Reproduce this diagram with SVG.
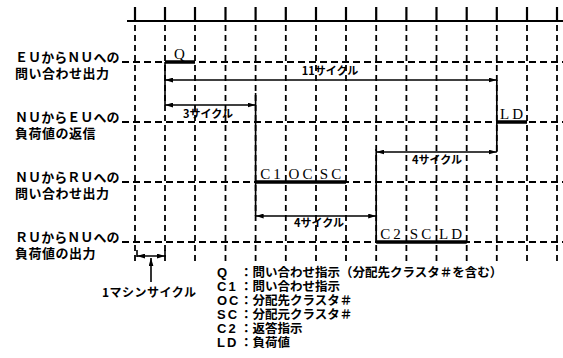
<svg xmlns="http://www.w3.org/2000/svg" width="563" height="358" viewBox="0 0 563 358">
<style>
.bg{fill:#fff}
.axis{stroke:#000;stroke-width:2;fill:none}
.tick{stroke:#000;stroke-width:2.2}
.vd{stroke:#000;stroke-width:1.8;stroke-dasharray:6 4;fill:none}
.hd{stroke:#000;stroke-width:1.8;stroke-dasharray:7 4;fill:none}
.bar{stroke:#000;stroke-width:3.5;fill:none}
.ln{stroke:#000;stroke-width:1.6;fill:none}
.arr{stroke:#000;stroke-width:1.5;fill:none;marker-start:url(#ah);marker-end:url(#ah)}
.lab{font-family:"Noto Sans CJK JP","Noto Sans",sans-serif;font-weight:bold;font-size:13px;letter-spacing:0.5px;fill:#000}
.sig{font-family:"Liberation Serif",serif;font-size:15px;letter-spacing:3px;fill:#000;text-anchor:middle}
.cyc{font-family:"Noto Sans CJK JP",sans-serif;font-weight:bold;font-size:11px;fill:#000;text-anchor:middle}
.key{font-family:"Liberation Sans",sans-serif;font-weight:bold;font-size:13px;letter-spacing:2px;fill:#000}
.desc{font-family:"Noto Sans CJK JP",sans-serif;font-weight:bold;font-size:12.5px;fill:#000}
</style>
<defs>
<marker id="ah" viewBox="0 0 10 6" refX="10" refY="3" markerWidth="8" markerHeight="5" markerUnits="userSpaceOnUse" orient="auto-start-reverse">
<path d="M0,0 L10,3 L0,6 z" fill="#000"/>
</marker>
</defs>
<rect class="bg" x="0" y="0" width="563" height="358"/>
<g id="grid">
<line class="axis" x1="127" y1="21" x2="563" y2="21"/>
<g class="tick">
<line x1="135" y1="7" x2="135" y2="22"/><line x1="165" y1="7" x2="165" y2="22"/><line x1="195" y1="7" x2="195" y2="22"/><line x1="225.5" y1="7" x2="225.5" y2="22"/><line x1="255.6" y1="7" x2="255.6" y2="22"/><line x1="285.8" y1="7" x2="285.8" y2="22"/><line x1="316" y1="7" x2="316" y2="22"/><line x1="346" y1="7" x2="346" y2="22"/><line x1="376.2" y1="7" x2="376.2" y2="22"/><line x1="406.4" y1="7" x2="406.4" y2="22"/><line x1="436.5" y1="7" x2="436.5" y2="22"/><line x1="466.7" y1="7" x2="466.7" y2="22"/><line x1="496.8" y1="7" x2="496.8" y2="22"/><line x1="527" y1="7" x2="527" y2="22"/><line x1="557" y1="7" x2="557" y2="22"/>
</g>
<g class="vd">
<line x1="135" y1="25" x2="135" y2="264"/><line x1="165" y1="25" x2="165" y2="264"/><line x1="195" y1="25" x2="195" y2="264"/><line x1="225.5" y1="25" x2="225.5" y2="264"/><line x1="255.6" y1="25" x2="255.6" y2="264"/><line x1="285.8" y1="25" x2="285.8" y2="264"/><line x1="316" y1="25" x2="316" y2="264"/><line x1="346" y1="25" x2="346" y2="264"/><line x1="376.2" y1="25" x2="376.2" y2="264"/><line x1="406.4" y1="25" x2="406.4" y2="264"/><line x1="436.5" y1="25" x2="436.5" y2="264"/><line x1="466.7" y1="25" x2="466.7" y2="264"/><line x1="496.8" y1="25" x2="496.8" y2="264"/><line x1="527" y1="25" x2="527" y2="264"/><line x1="557" y1="25" x2="557" y2="264"/>
</g>
<g class="hd">
<line x1="122" y1="62" x2="563" y2="62"/>
<line x1="122" y1="122" x2="563" y2="122"/>
<line x1="122" y1="182" x2="563" y2="182"/>
<line x1="122" y1="242" x2="563" y2="242"/>
</g>
</g>
<g id="row-eu-nu">
<text class="lab" x="15" y="62" textLength="105" lengthAdjust="spacing">ＥＵからＮＵへの</text>
<text class="lab" x="15" y="78">問い合わせ出力</text>
<line class="bar" x1="165" y1="62" x2="195" y2="62"/>
<text class="sig" x="181" y="59">Q</text>
</g>
<g id="row-nu-eu">
<text class="lab" x="15" y="122" textLength="105" lengthAdjust="spacing">ＮＵからＥＵへの</text>
<text class="lab" x="15" y="138">負荷値の返信</text>
<line class="bar" x1="496.8" y1="122" x2="527" y2="122"/>
<text class="sig" x="513" y="119">LD</text>
</g>
<g id="row-nu-ru">
<text class="lab" x="15" y="182" textLength="105" lengthAdjust="spacing">ＮＵからＲＵへの</text>
<text class="lab" x="15" y="198">問い合わせ出力</text>
<line class="bar" x1="255.6" y1="182" x2="346" y2="182"/>
<text class="sig" x="272" y="179">C1</text>
<text class="sig" x="302" y="179">OC</text>
<text class="sig" x="332" y="179">SC</text>
</g>
<g id="row-ru-nu">
<text class="lab" x="15" y="242" textLength="105" lengthAdjust="spacing">ＲＵからＮＵへの</text>
<text class="lab" x="15" y="258">負荷値の出力</text>
<line class="bar" x1="376.2" y1="242" x2="466.7" y2="242"/>
<text class="sig" x="392" y="239">C2</text>
<text class="sig" x="422" y="239">SC</text>
<text class="sig" x="452" y="239">LD</text>
</g>
<g id="connectors">
<line class="ln" x1="165" y1="62" x2="165" y2="105"/>
<line class="arr" x1="165" y1="80" x2="496.8" y2="80"/>
<text class="cyc" x="330" y="75">11サイクル</text>
<line class="arr" x1="165" y1="105" x2="255.6" y2="105"/>
<text class="cyc" x="208" y="118">3サイクル</text>
<line class="ln" x1="255.6" y1="93" x2="255.6" y2="216"/>
<line class="arr" x1="255.6" y1="216" x2="376.2" y2="216"/>
<text class="cyc" x="319" y="227">4サイクル</text>
<line class="ln" x1="376.2" y1="149" x2="376.2" y2="242"/>
<line class="arr" x1="376.2" y1="152" x2="496.8" y2="152"/>
<text class="cyc" x="437" y="164">4サイクル</text>
<line class="ln" x1="496.8" y1="80" x2="496.8" y2="152"/>
</g>
<g id="machine-cycle">
<line class="ln" x1="137" y1="250" x2="137" y2="257"/>
<line class="ln" x1="165" y1="250" x2="165" y2="257"/>
<line class="arr" x1="137" y1="256" x2="165" y2="256"/>
<line class="ln" x1="151" y1="282" x2="151" y2="258" marker-end="url(#ah)"/>
<text class="desc" x="102" y="297" style="font-size:12px;letter-spacing:0.5px">1マシンサイクル</text>
</g>
<g id="legend">
<text class="key" x="217" y="277">Q</text><text class="desc" x="240" y="277">：問い合わせ指示（分配先クラスタ＃を含む）</text>
<text class="key" x="217" y="291">C1</text><text class="desc" x="240" y="291">：問い合わせ指示</text>
<text class="key" x="217" y="305">OC</text><text class="desc" x="240" y="305">：分配先クラスタ＃</text>
<text class="key" x="217" y="319">SC</text><text class="desc" x="240" y="319">：分配元クラスタ＃</text>
<text class="key" x="217" y="333">C2</text><text class="desc" x="240" y="333">：返答指示</text>
<text class="key" x="217" y="347">LD</text><text class="desc" x="240" y="347">：負荷値</text>
</g>
</svg>
